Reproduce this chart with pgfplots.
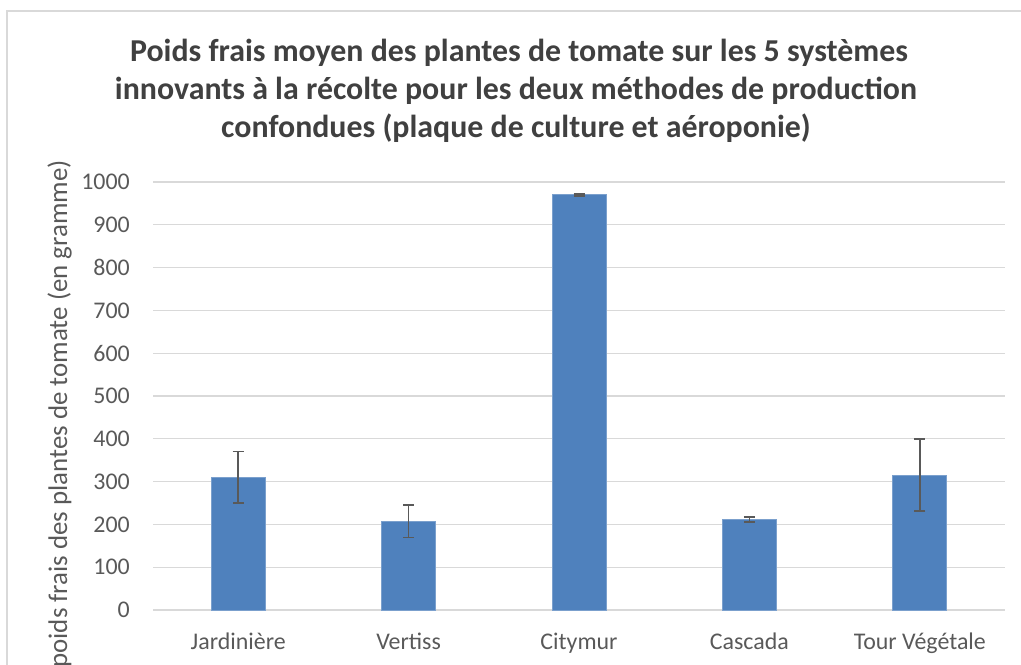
\documentclass[border=0pt]{standalone}
\usepackage{pgfplots}
\pgfplotsset{compat=1.18}
\usepackage{pgfplotstable}
\usepackage{fontspec}
\setmainfont{Carlito}
\definecolor{barblue}{HTML}{4F81BD}
\definecolor{gridgray}{HTML}{D9D9D9}
\definecolor{errgray}{HTML}{595959}
\definecolor{ticktext}{HTML}{595959}
\definecolor{titletext}{HTML}{404040}
\definecolor{framegray}{HTML}{D9D9D9}

\pgfplotstableread{
x y e
0 310 60
1 207 38
2 970 2
3 212 6
4 315 84
}\poidsdata

\begin{document}
\begin{tikzpicture}
\useasboundingbox (0bp,-665bp) rectangle (1021bp,0bp);
\draw[color=framegray, line width=1.5bp] (7bp,-670bp) -- (7bp,-11bp) -- (1030bp,-11bp);
\node[anchor=base, text=titletext, font=\bfseries\fontsize{32}{38}\selectfont, inner sep=0pt] at (519bp,-61bp) {Poids frais moyen des plantes de tomate sur les 5 systèmes};
\node[anchor=base, text=titletext, font=\bfseries\fontsize{32}{38}\selectfont, inner sep=0pt] at (516bp,-99bp) {innovants à la récolte pour les deux méthodes de production};
\node[anchor=base, text=titletext, font=\bfseries\fontsize{32}{38}\selectfont, inner sep=0pt] at (516bp,-137bp) {confondues (plaque de culture et aéroponie)};
\node[rotate=90, anchor=base east, inner sep=0pt, text=ticktext, font=\fontsize{27}{32}\selectfont] at (67bp,-160bp) {poids frais des plantes de tomate (en gramme)};
\begin{axis}[
  at={(153bp,-610bp)}, anchor=south west,
  scale only axis, width=852bp, height=428bp,
  xmin=-0.5, xmax=4.5, ymin=0, ymax=1000,
  ybar, bar width=54bp,
  ytick={0,100,...,1000},
  xtick={0,1,2,3,4},
  xticklabels={Jardinière,Vertiss,Citymur,Cascada,Tour Végétale},
  ymajorgrids,
  grid style={color=gridgray, line width=1.3bp},
  axis line style={draw=none},
  major tick length=0pt,
  tick style={draw=none},
  /pgf/number format/assume math mode=true,
  /pgf/number format/1000 sep={},
  ticklabel style={font=\fontsize{24}{28}\selectfont, text=ticktext},
  yticklabel style={anchor=east, inner sep=0pt, xshift=-23bp},
  xticklabel style={anchor=base, inner sep=0pt, yshift=-39bp},
]
\addplot[fill=barblue, draw=barblue!75!white, line width=0.8bp,
  error bars/.cd, y dir=both, y explicit,
  error bar style={color=errgray, line width=1.6bp},
  error mark options={rotate=90, mark size=5.5bp, line width=1.6bp, color=errgray}]
  table[x=x, y=y, y error=e] {\poidsdata};
\end{axis}
\end{tikzpicture}
\end{document}
